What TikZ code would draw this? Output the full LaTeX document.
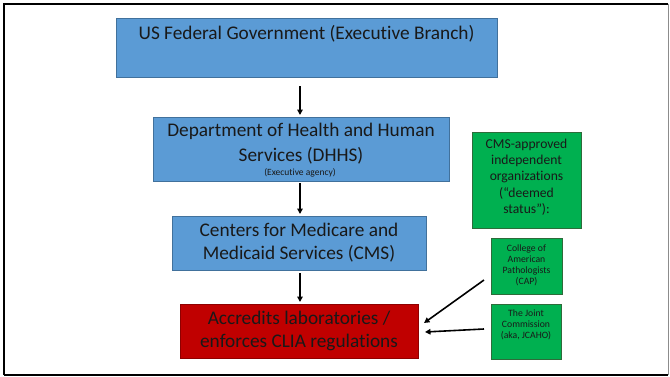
\documentclass[tikz,border=0pt]{standalone}
\usepackage{fontspec}
\setmainfont{Carlito}[Ligatures=NoCommon]
\usetikzlibrary{arrows.meta}
\definecolor{boxblue}{HTML}{5B9BD5}
\definecolor{boxblueedge}{HTML}{41719C}
\definecolor{boxred}{HTML}{C00000}
\definecolor{boxrededge}{HTML}{8F0000}
\definecolor{boxgreen}{HTML}{00B050}
\definecolor{boxgreenedge}{HTML}{2E6B3A}
\begin{document}
\begin{tikzpicture}[x=1pt,y=-1pt,
  bluebox/.style={draw=boxblueedge,fill=boxblue,line width=1pt,inner sep=0pt},
  redbox/.style={draw=boxrededge,fill=boxred,line width=1pt,inner sep=0pt},
  greenbox/.style={draw=boxgreenedge,fill=boxgreen,line width=1pt,inner sep=0pt},
  flow/.style={line width=1.6pt,-{Triangle[length=5.5pt,width=5.5pt]}},
  big/.style={font=\fontsize{19.3}{23}\selectfont,align=center,text=black!90},
  mid/.style={font=\fontsize{13.6}{16.3}\selectfont,align=center,text=black!90},
  tiny/.style={font=\fontsize{9.7}{11}\selectfont,align=center,text=black!90}]
\useasboundingbox (0,0) rectangle (670,376);
% slide frame
\draw[line width=2pt,black] (4,375) -- (4,3.5) -- (668,3.5);
\draw[line width=2pt,black] (4,375) -- (668,375);
\draw[line width=1pt,black!45] (668.5,3.5) -- (668.5,375);

% agency chain
\node[bluebox,minimum width=381pt,minimum height=59pt,anchor=north west] (gov) at (116,18) {};
\node[big] (govt) at (306.5,33.5) {US Federal Government (Executive Branch)};

\node[bluebox,minimum width=296pt,minimum height=64pt,anchor=north west] (dhhs) at (153,117) {};
\node[big,font=\fontsize{19.3}{25}\selectfont] (dhhst) at (301,143.5) {Department of Health and Human\\Services (DHHS)};
\node[font=\fontsize{9.5}{10}\selectfont,text=black!90] (dhhss) at (300,173) {(Executive agency)};

\node[bluebox,minimum width=254pt,minimum height=54pt,anchor=north west] (cms) at (172,216) {};
\node[big] (cmst) at (299,242.5) {Centers for Medicare and\\Medicaid Services (CMS)};

\node[redbox,minimum width=238pt,minimum height=54pt,anchor=north west] (lab) at (180,304) {};
\node[big] (labt) at (299,330.5) {Accredits laboratories /\\enforces CLIA regulations};

% accrediting organizations
\node[greenbox,minimum width=109pt,minimum height=96pt,anchor=north west] (org) at (472,132) {};
\node[mid] (orgt) at (526.5,177) {CMS-approved\\independent\\organizations\\(“deemed\\status”):};

\node[greenbox,minimum width=71pt,minimum height=56pt,anchor=north west] (cap) at (491,238) {};
\node[tiny] (capt) at (526.5,265) {College of\\American\\Pathologists\\(CAP)};

\node[greenbox,minimum width=70pt,minimum height=55pt,anchor=north west] (jc) at (491,304) {};
\node[tiny] (jct) at (526,325) {The Joint\\Commission\\(aka, JCAHO)};

% connectors
\coordinate (capin) at (424,323);
\coordinate (jcin) at (425,332);
\draw[flow] (300,86) -- (300,115);
\draw[flow] (300,183) -- (300,214);
\draw[flow] (300,273) -- (300,302);
\draw[flow] (484,280) -- (capin);
\draw[flow] (484,329) -- (jcin);
\end{tikzpicture}
\end{document}
